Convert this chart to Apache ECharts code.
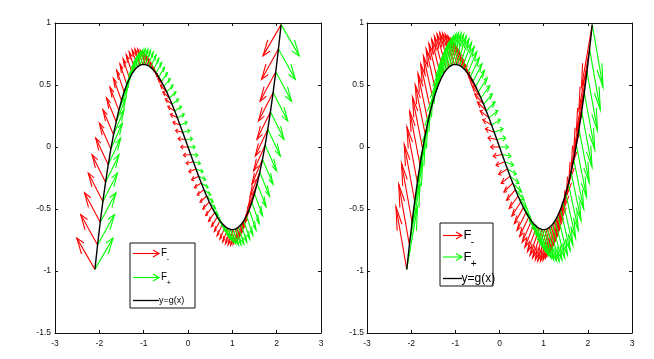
<!DOCTYPE html>
<html>
<head>
<meta charset="utf-8">
<script src="https://cdn.jsdelivr.net/npm/echarts@6/dist/echarts.min.js"></script>
<style>
html,body{margin:0;padding:0;background:#fff;}
#c{width:654px;height:359px;}
</style>
</head>
<body>
<div id="c"></div>
<script>
// ---- data ----
const baseX = [-2.10,-2.04,-1.98,-1.92,-1.86,-1.80,-1.74,-1.68,-1.62,-1.56,-1.50,-1.44,-1.38,-1.32,-1.26,-1.20,-1.14,-1.08,-1.02,-0.96,-0.90,-0.84,-0.78,-0.72,-0.66,-0.60,-0.54,-0.48,-0.42,-0.36,-0.30,-0.24,-0.18,-0.12,-0.06,0.00,0.06,0.12,0.18,0.24,0.30,0.36,0.42,0.48,0.54,0.60,0.66,0.72,0.78,0.84,0.90,0.96,1.02,1.08,1.14,1.20,1.26,1.32,1.38,1.44,1.50,1.56,1.62,1.68,1.74,1.80,1.86,1.92,1.98,2.04,2.10];
const curveY = [-0.987,-0.790,-0.607,-0.439,-0.285,-0.144,-0.016,0.099,0.203,0.295,0.375,0.445,0.504,0.553,0.593,0.624,0.646,0.660,0.666,0.665,0.657,0.642,0.622,0.596,0.564,0.528,0.488,0.443,0.395,0.344,0.291,0.235,0.178,0.119,0.060,0.000,-0.060,-0.119,-0.178,-0.235,-0.291,-0.344,-0.395,-0.443,-0.488,-0.528,-0.564,-0.596,-0.622,-0.642,-0.657,-0.665,-0.666,-0.660,-0.646,-0.624,-0.593,-0.553,-0.504,-0.445,-0.375,-0.295,-0.203,-0.099,0.016,0.144,0.285,0.439,0.607,0.790,0.987];
// left panel: F- = (-spread, rise), F+ = (+spread, rise)
const spreadLeft = [0.409,0.381,0.355,0.330,0.305,0.282,0.260,0.239,0.219,0.201,0.184,0.169,0.155,0.143,0.133,0.126,0.120,0.117,0.115,0.115,0.117,0.120,0.124,0.128,0.132,0.137,0.141,0.145,0.149,0.152,0.155,0.158,0.160,0.161,0.162,0.163,0.162,0.161,0.160,0.158,0.155,0.152,0.149,0.145,0.141,0.137,0.132,0.128,0.124,0.120,0.117,0.115,0.115,0.117,0.120,0.126,0.133,0.143,0.155,0.169,0.184,0.201,0.219,0.239,0.260,0.282,0.305,0.330,0.355,0.381,0.409];
const riseLeft = [0.252,0.245,0.238,0.230,0.223,0.216,0.209,0.202,0.194,0.187,0.180,0.173,0.166,0.158,0.151,0.144,0.137,0.130,0.122,0.115,0.108,0.101,0.094,0.086,0.079,0.072,0.065,0.058,0.050,0.043,0.036,0.029,0.022,0.014,0.007,0.000,-0.007,-0.014,-0.022,-0.029,-0.036,-0.043,-0.050,-0.058,-0.065,-0.072,-0.079,-0.086,-0.094,-0.101,-0.108,-0.115,-0.122,-0.130,-0.137,-0.144,-0.151,-0.158,-0.166,-0.173,-0.180,-0.187,-0.194,-0.202,-0.209,-0.216,-0.223,-0.230,-0.238,-0.245,-0.252];
// right panel
const spreadRight = [0.244,0.242,0.239,0.237,0.235,0.232,0.230,0.228,0.226,0.224,0.223,0.221,0.219,0.217,0.216,0.214,0.213,0.212,0.210,0.209,0.208,0.207,0.206,0.205,0.204,0.204,0.203,0.202,0.202,0.201,0.201,0.201,0.200,0.200,0.200,0.200,0.200,0.200,0.200,0.201,0.201,0.201,0.202,0.202,0.203,0.204,0.204,0.205,0.206,0.207,0.208,0.209,0.210,0.212,0.213,0.214,0.216,0.217,0.219,0.221,0.223,0.224,0.226,0.228,0.230,0.232,0.235,0.237,0.239,0.242,0.244];
const riseRight = [0.504,0.490,0.475,0.461,0.446,0.432,0.418,0.403,0.389,0.374,0.360,0.346,0.331,0.317,0.302,0.288,0.274,0.259,0.245,0.230,0.216,0.202,0.187,0.173,0.158,0.144,0.130,0.115,0.101,0.086,0.072,0.058,0.043,0.029,0.014,0.000,-0.014,-0.029,-0.043,-0.058,-0.072,-0.086,-0.101,-0.115,-0.130,-0.144,-0.158,-0.173,-0.187,-0.202,-0.216,-0.230,-0.245,-0.259,-0.274,-0.288,-0.302,-0.317,-0.331,-0.346,-0.360,-0.374,-0.389,-0.403,-0.418,-0.432,-0.446,-0.461,-0.475,-0.490,-0.504];
const xTickLabels = ['-3','-2','-1','0','1','2','3'];
const yTickLabels = ['-1.5','-1','-0.5','0','0.5','1'];
const legendNames = ['F', 'y=g(x)'];

// ---- build ----
const RED = '#ff0000', GREEN = '#00ff00';
function arrows(spread, rise, sign) {
  return baseX.map((x, i) => [x, curveY[i], sign * spread[i], rise[i]]);
}
function arrowRenderer(color) {
  return function (params, api) {
    const x0 = api.value(0), y0 = api.value(1), u = api.value(2), v = api.value(3);
    const a = 0.33, b = 0.33;
    const tx = x0 + u, ty = y0 + v;
    const h1 = [tx - a * (u + b * v), ty - a * (v - b * u)];
    const h2 = [tx - a * (u - b * v), ty - a * (v + b * u)];
    const p0 = api.coord([x0, y0]), p1 = api.coord([tx, ty]);
    const q1 = api.coord(h1), q2 = api.coord(h2);
    const st = { stroke: color, lineWidth: 1.1, fill: null };
    return {
      type: 'group',
      children: [
        { type: 'polyline', shape: { points: [p0, p1] }, style: st },
        { type: 'polyline', shape: { points: [q1, p1, q2] }, style: st }
      ]
    };
  };
}
const curve = baseX.map((x, i) => [x, curveY[i]]);

const axisCommon = {
  axisLine: { show: true, onZero: false, lineStyle: { color: '#111', width: 1 } },
  axisTick: { show: true, inside: true, length: 3, lineStyle: { color: '#111' } },
  splitLine: { show: false }
};
const labelFont = { fontFamily: 'Liberation Sans Narrow, Liberation Sans, Arial, sans-serif', fontSize: 8.5, color: '#111' };
function xAxes(gi, margin) {
  return [
    Object.assign({ type: 'value', gridIndex: gi, position: 'bottom', min: -3, max: 3, interval: 1,
      axisLabel: Object.assign({ margin: margin, formatter: v => xTickLabels[Math.round(v) + 3] }, labelFont) }, axisCommon),
    Object.assign({ type: 'value', gridIndex: gi, position: 'top', min: -3, max: 3, interval: 1,
      axisLabel: { show: false } }, axisCommon)
  ];
}
function yAxes(gi, margin) {
  return [
    Object.assign({ type: 'value', gridIndex: gi, position: 'left', min: -1.5, max: 1, interval: 0.5,
      axisLabel: Object.assign({ margin: margin, formatter: v => yTickLabels[Math.round(v * 2) + 3] }, labelFont) }, axisCommon),
    Object.assign({ type: 'value', gridIndex: gi, position: 'right', min: -1.5, max: 1, interval: 0.5,
      axisLabel: { show: false } }, axisCommon)
  ];
}

function legendGraphic(box, lineX0, lineX1, ys, fs, sub, txtX) {
  const els = [];
  els.push({ type: 'rect', shape: { x: box[0], y: box[1], width: box[2], height: box[3] },
    style: { fill: '#fff', stroke: '#111', lineWidth: 1 }, z: 100 });
  const cols = [RED, GREEN];
  for (let k = 0; k < 2; k++) {
    const y = ys[k];
    els.push({ type: 'polyline', shape: { points: [[lineX0, y], [lineX1, y]] }, style: { stroke: cols[k], lineWidth: 1.1, fill: null }, z: 101 });
    els.push({ type: 'polyline', shape: { points: [[lineX1 - 6, y - 3.5], [lineX1, y], [lineX1 - 6, y + 3.5]] }, style: { stroke: cols[k], lineWidth: 1.1, fill: null }, z: 101 });
    els.push({ type: 'text', x: txtX, y: y, style: { text: legendNames[0], fontSize: fs, fill: '#000', fontFamily: 'Liberation Sans, Arial, sans-serif', textVerticalAlign: 'middle', verticalAlign: 'middle' }, z: 102 });
    els.push({ type: 'text', x: txtX + fs * 0.55, y: y + fs * 0.55, style: { text: k === 0 ? '-' : '+', fontSize: sub, fill: '#000', fontFamily: 'Liberation Sans, Arial, sans-serif', textVerticalAlign: 'middle', verticalAlign: 'middle' }, z: 102 });
  }
  els.push({ type: 'polyline', shape: { points: [[lineX0, ys[2]], [lineX1, ys[2]]] }, style: { stroke: '#000', lineWidth: 1.3, fill: null }, z: 101 });
  els.push({ type: 'text', x: txtX - 2, y: ys[2], style: { text: legendNames[1], fontSize: fs - 1, fill: '#000', fontFamily: 'Liberation Sans, Arial, sans-serif', textVerticalAlign: 'middle', verticalAlign: 'middle' }, z: 102 });
  return els;
}

const chart = echarts.init(document.getElementById('c'), null, { renderer: 'canvas' });
chart.setOption({
  animation: false,
  backgroundColor: '#fff',
  grid: [
    { left: 55, top: 23, width: 266, height: 310 },
    { left: 367, top: 23, width: 265, height: 310 }
  ],
  xAxis: xAxes(0, 6).concat(xAxes(1, 6)),
  yAxis: yAxes(0, 4).concat(yAxes(1, 3)),
  series: [
    { type: 'custom', xAxisIndex: 0, yAxisIndex: 0, renderItem: arrowRenderer(RED), data: arrows(spreadLeft, riseLeft, -1), clip: false, z: 2 },
    { type: 'custom', xAxisIndex: 0, yAxisIndex: 0, renderItem: arrowRenderer(GREEN), data: arrows(spreadLeft, riseLeft, 1), clip: false, z: 3 },
    { type: 'line', xAxisIndex: 0, yAxisIndex: 0, data: curve, showSymbol: false, lineStyle: { color: '#000', width: 1.4 }, z: 4 },
    { type: 'custom', xAxisIndex: 2, yAxisIndex: 2, renderItem: arrowRenderer(RED), data: arrows(spreadRight, riseRight, -1), clip: false, z: 2 },
    { type: 'custom', xAxisIndex: 2, yAxisIndex: 2, renderItem: arrowRenderer(GREEN), data: arrows(spreadRight, riseRight, 1), clip: false, z: 3 },
    { type: 'line', xAxisIndex: 2, yAxisIndex: 2, data: curve, showSymbol: false, lineStyle: { color: '#000', width: 1.4 }, z: 4 }
  ],
  graphic: legendGraphic([130, 243, 65, 65], 133, 159, [253.5, 277.5, 300.5], 10, 8, 161)
    .concat(legendGraphic([440, 223, 53, 63], 443, 462, [235.5, 257, 278.5], 13, 10, 463.5))
});
</script>
</body>
</html>
